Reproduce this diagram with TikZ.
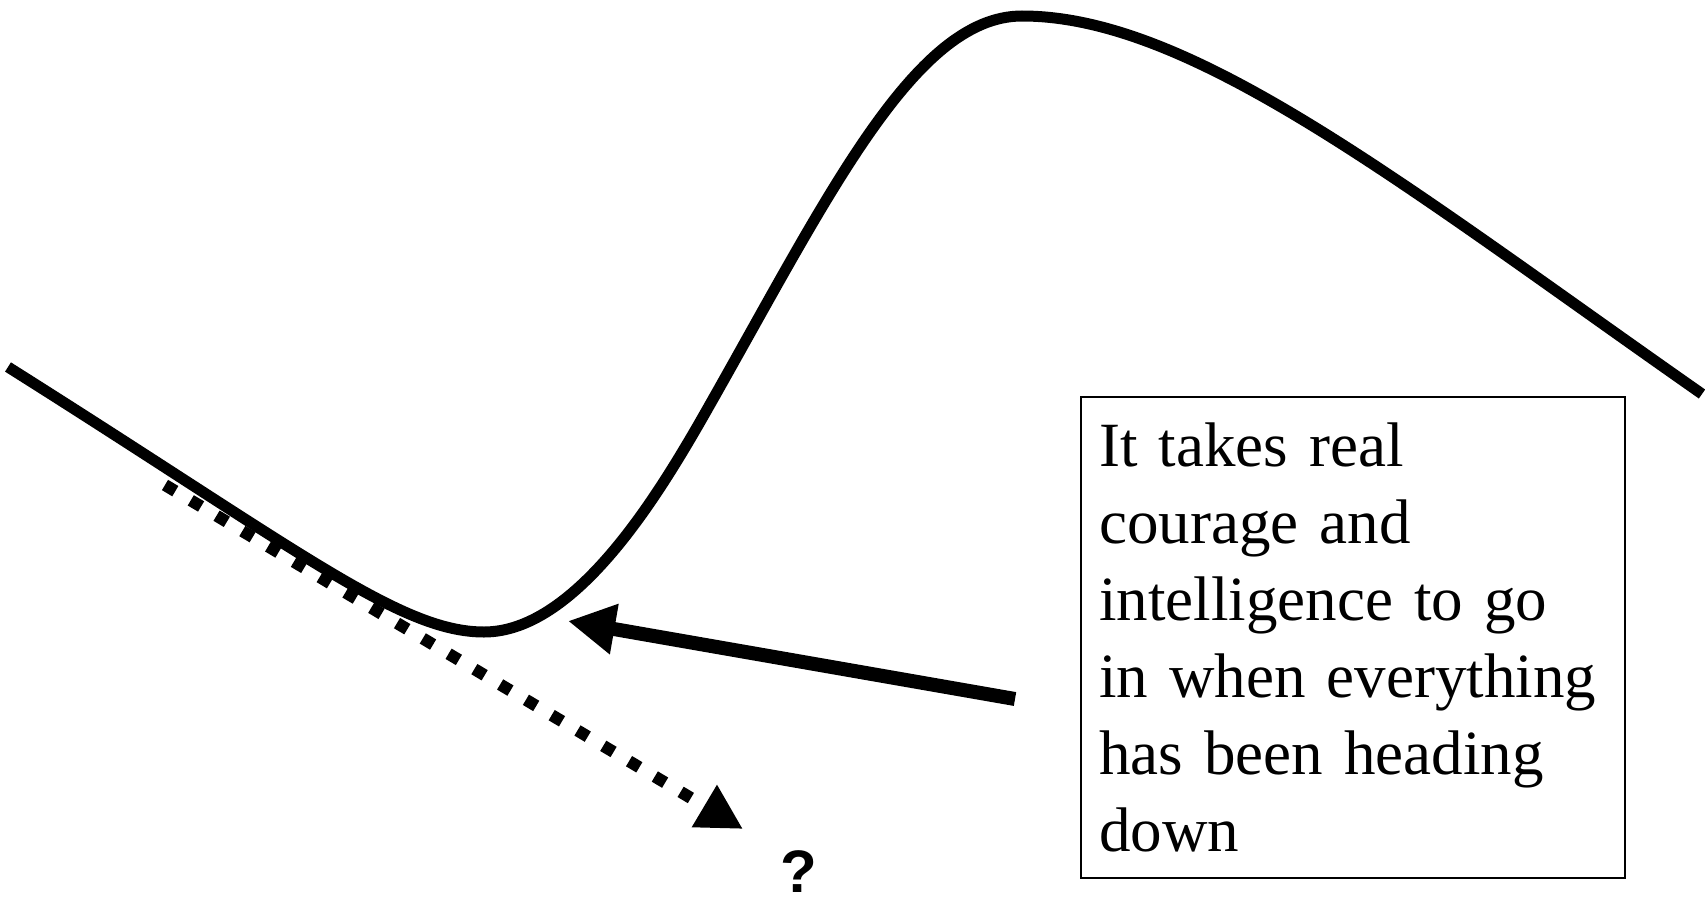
\documentclass[tikz,border=0pt]{standalone}
\usepackage{fontspec}
\setmainfont{Liberation Serif}
\newfontfamily\qfont{Liberation Sans}
\usetikzlibrary{arrows.meta}

\begin{document}
\begin{tikzpicture}[x=1pt,y=-1pt,
    curve/.style={line width=11pt},
    pointer/.style={line width=14pt,-{Triangle[length=47pt,width=48pt]}},
    dotline/.style={line width=12pt,dash pattern=on 12pt off 18pt,-{Triangle[length=45pt,width=46pt]}},
    notebox/.style={draw,line width=2.4pt,anchor=north west,minimum width=544pt,minimum height=481pt,
        text width=508pt,inner xsep=18pt,align=left,font=\fontsize{63pt}{77pt}\selectfont}]
    \useasboundingbox (0,0) rectangle (1705,902);

    \coordinate (start) at (8,367);
    \coordinate (valley) at (484,632);
    \coordinate (rise) at (700,422);
    \coordinate (peak) at (1022,16);
    \coordinate (finish) at (1702,394);
    \coordinate (tail) at (1015,699);
    \coordinate (tip) at (568,621);
    \coordinate (fallstart) at (165,485);
    \coordinate (fallend) at (743,829);

    \draw[curve] (start) .. controls (300,551) and (400,632) .. (valley)
        .. controls (574,632) and (655,500) .. (rise)
        .. controls (824,205) and (912,16) .. (peak)
        .. controls (1192,16) and (1402,184) .. (finish);

    \draw[dotline] (fallstart) -- (fallend);
    \draw[pointer] (tail) -- (tip);

    % Box and label
    \node[notebox] (note) at (1080,396) {It takes real\\ courage and\\ intelligence to go\\ in when everything\\ has been heading\\ down};
    \node[anchor=base,inner sep=0pt,font=\qfont\bfseries\fontsize{60pt}{60pt}\selectfont] (what) at (799,892) {?};
\end{tikzpicture}
\end{document}
